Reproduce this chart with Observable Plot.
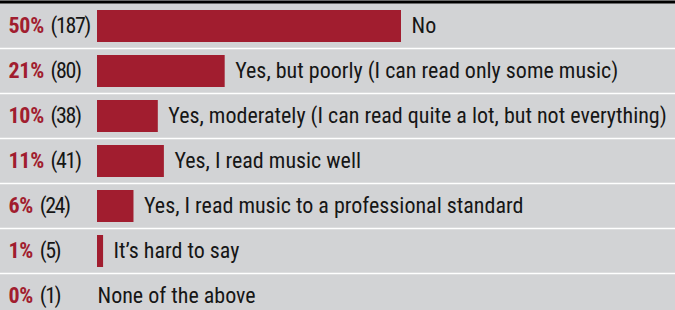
<!DOCTYPE html>
<html><head><meta charset="utf-8">
<script src="https://cdn.jsdelivr.net/npm/d3@7"></script>
<script src="https://cdn.jsdelivr.net/npm/@observablehq/plot@0.6"></script>
<style>
html,body{margin:0;padding:0;background:#d2d3d5;overflow:hidden;}
</style></head><body><div id="chart"></div>
<script>
const answers = [
  "No",
  "Yes, but poorly (I can read only some music)",
  "Yes, moderately (I can read quite a lot, but not everything)",
  "Yes, I read music well",
  "Yes, I read music to a professional standard",
  "It\u2019s hard to say",
  "None of the above"
];
const percents = [50, 21, 10, 11, 6, 1, 0];
const counts = [187, 80, 38, 41, 24, 5, 1];

const data = answers.map((a, i) => ({answer: a, pct: percents[i], count: counts[i]}));
const font = "'Roboto Condensed', 'Roboto', sans-serif";
const red = "#a11d2f";
const ink = "#161616";

const chart = Plot.plot({
  width: 675, height: 310,
  marginTop: 0, marginLeft: 0, marginRight: 0, marginBottom: 0,
  style: {background: "#d2d3d5", fontFamily: font, fontSize: "22px", color: ink, fontStretch: "condensed"},
  x: {domain: [0, 50], range: [97, 401], axis: null},
  y: {domain: answers, range: [3, 318], padding: 0, axis: null},
  marks: [
    Plot.ruleY(answers.slice(1), {y: d => d, dy: -22.5, stroke: "#ffffff", strokeWidth: 1.6}),
    Plot.ruleY(answers.slice(0, 1), {y: d => d, dy: -24, stroke: "#000000", strokeWidth: 3}),
    Plot.barX(data, {x: "pct", y: "answer", fill: red, insetTop: 7, insetBottom: 6}),
    Plot.text(data.filter(d => d.pct > 0), {x: "pct", y: "answer", text: "answer", textAnchor: "start", dx: 10, fill: ink}),
    Plot.text(data.filter(d => d.pct === 0), {x: "pct", y: "answer", text: "answer", textAnchor: "start", dx: 0, fill: ink}),
    Plot.text(data, {frameAnchor: "left", y: "answer", text: d => `${d.pct}%|(${d.count})`, dx: 8, textAnchor: "start", fill: ink})
  ]
});
document.getElementById("chart").appendChild(chart);

d3.select(chart).selectAll("text").each(function() {
  const t = d3.select(this);
  const s = t.text();
  if (!s.includes("|")) return;
  const [p, c] = s.split("|");
  t.text(null);
  t.append("tspan").attr("fill", red).attr("font-weight", "bold").attr("letter-spacing", "-0.3px").text(p);
  t.append("tspan").attr("dx", "0.3em").attr("letter-spacing", "-1.4px").text(c);
});
</script></body></html>
